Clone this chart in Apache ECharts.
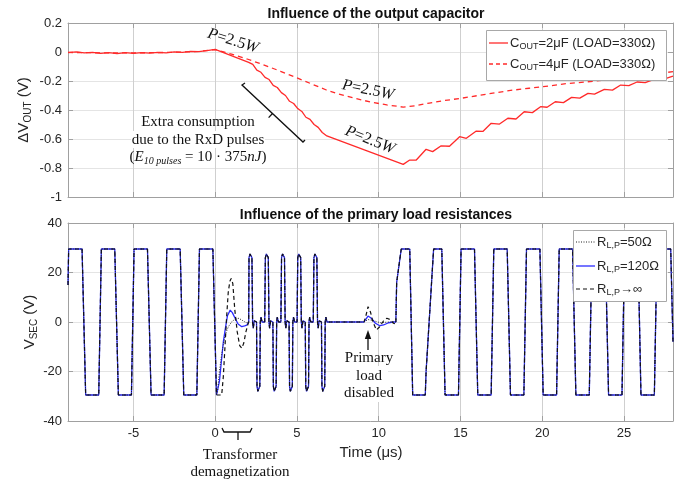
<!DOCTYPE html>
<html><head><meta charset="utf-8">
<script src="https://cdn.jsdelivr.net/npm/echarts@6/dist/echarts.min.js"></script>
<style>html,body{margin:0;padding:0;background:#fff}#c{width:689px;height:482px}</style>
</head><body><div id="c"></div>
<script>
// ---------------- DATA ----------------
const xTicks = [-5, 0, 5, 10, 15, 20, 25];
const yTicksTop = [-1, -0.8, -0.6, -0.4, -0.2, 0, 0.2];
const yTicksBottom = [-40, -20, 0, 20, 40];

// Top panel: C_OUT = 2 uF (solid)
const cout2uF = [[-9,-0.004],[-8.5,0.001],[-8,-0.006],[-7.5,-0.002],[-7,-0.009],[-6.5,-0.004],[-6,-0.011],[-5.5,-0.005],[-5,-0.01],[-4.5,-0.004],[-4,-0.008],[-3.5,-0.002],[-3,-0.006],[-2.5,0.001],[-2,-0.003],[-1.5,0.005],[-1,0.002],[-0.5,0.01],[0,0.018],
[2.05,-0.071],[2.3,-0.085],[2.55,-0.125],[2.8,-0.14],[3.05,-0.175],[3.3,-0.19],[3.55,-0.23],[3.8,-0.245],[4.05,-0.28],[4.3,-0.3],[4.55,-0.34],[4.8,-0.355],[5.05,-0.39],[5.3,-0.41],[5.55,-0.45],[5.8,-0.465],[6.05,-0.5],[6.3,-0.52],[6.55,-0.555],[6.83,-0.579],
[11.5,-0.775],[11.9,-0.745],[12.3,-0.745],[12.9,-0.671],[13.3,-0.687],[13.8,-0.648],[14.33,-0.65],[14.95,-0.584],[15.36,-0.595],[15.97,-0.545],[16.37,-0.548],[16.88,-0.492],[17.39,-0.497],[17.9,-0.457],[18.4,-0.462],[18.9,-0.412],[19.4,-0.418],[19.9,-0.377],[20.3,-0.381],[20.8,-0.343],[21.3,-0.349],[21.8,-0.313],[22.3,-0.318],[22.8,-0.285],[23.2,-0.29],[23.8,-0.258],[24.3,-0.263],[24.8,-0.228],[25.3,-0.232],[25.8,-0.207],[26.3,-0.211],[26.8,-0.19],[27.3,-0.193],[28,-0.166]];

// Top panel: C_OUT = 4 uF (dashed)
const cout4uF = [[-9,-0.003],[-8,-0.004],[-7,-0.006],[-6,-0.007],[-5,-0.006],[-4,-0.005],[-3,-0.003],[-2,0],[-1,0.004],[0,0.017],
[1,-0.015],[2,-0.05],[3,-0.09],[4,-0.133],[5,-0.178],[6,-0.225],[6.8,-0.262],[7.5,-0.288],[8.5,-0.318],[9.5,-0.345],[10.5,-0.365],[11.5,-0.38],[12.2,-0.372],[13.1,-0.352],[14,-0.335],[15,-0.32],[16.2,-0.298],[17.2,-0.28],[18.2,-0.263],[19.2,-0.25],[20,-0.24],[21.5,-0.218],[23.3,-0.2],[24.1,-0.19],[25.2,-0.175],[26.5,-0.155],[28,-0.136]];

// Bottom panel: parts shared by all three load cases
const vsecBefore = [[-9,15],[-8.96,29.5],[-8.14,29.5],[-7.92,-29.5],[-7.12,-29.5],[-6.96,29.5],[-6.14,29.5],[-5.92,-29.5],[-5.12,-29.5],[-4.96,29.5],[-4.14,29.5],[-3.92,-29.5],[-3.12,-29.5],[-2.96,29.5],[-2.14,29.5],[-1.92,-29.5],[-1.12,-29.5],[-0.96,29.5],[-0.14,29.5],[0.08,-29.5]];
const vsecPulses = [[2.05,0],[2.07,26],[2.13,27.5],[2.21,28],[2.25,26],[2.29,0],[2.33,-2.5],[2.39,0.5],[2.53,0],[2.56,-26],[2.61,-28],[2.69,-28.3],[2.73,-26],[2.76,0],[2.8,2],[2.87,0],
[3.03,0],[3.07,26],[3.13,27.5],[3.21,28],[3.25,26],[3.29,0],[3.33,-2.5],[3.39,0.5],[3.53,0],[3.56,-26],[3.61,-28],[3.69,-28.3],[3.73,-26],[3.76,0],[3.8,2],[3.87,0],
[4.02,0],[4.06,26],[4.12,27.5],[4.2,28],[4.24,26],[4.28,0],[4.32,-2.5],[4.38,0.5],[4.52,0],[4.55,-26],[4.6,-28],[4.68,-28.3],[4.72,-26],[4.75,0],[4.79,2],[4.86,0],
[5.01,0],[5.05,26],[5.11,27.5],[5.19,28],[5.23,26],[5.27,0],[5.31,-2.5],[5.37,0.5],[5.51,0],[5.54,-26],[5.59,-28],[5.67,-28.3],[5.71,-26],[5.74,0],[5.78,2],[5.85,0],
[6.0,0],[6.04,26],[6.1,27.5],[6.18,28],[6.22,26],[6.26,0],[6.3,-2.5],[6.36,0.5],[6.5,0],[6.53,-26],[6.58,-28],[6.66,-28.3],[6.7,-26],[6.73,0],[6.77,2],[6.84,0],[9.1,0]];
const vsecAfter = [[11.05,0],[11.1,16],[11.38,29.5],[11.9,29.5],[12.08,-29.5],[12.85,-29.5],[12.9,-20],[13.36,29.5],[13.86,29.5],[14.06,-29.5],[14.88,-29.5],[15.04,29.5],[15.86,29.5],[16.06,-29.5],[16.88,-29.5],[17.04,29.5],[17.86,29.5],[18.06,-29.5],[18.88,-29.5],[19.04,29.5],[19.86,29.5],[20.06,-29.5],[20.88,-29.5],[21.04,29.5],[21.86,29.5],[22.06,-29.5],[22.88,-29.5],[23.04,29.5],[23.86,29.5],[24.06,-29.5],[24.88,-29.5],[25.04,29.5],[25.86,29.5],[26.04,-29.5],[26.86,-29.5],[27.02,29.5],[27.86,29.5],[28,-8]];

// Bottom panel: transients that differ per primary load
const demag50 = [[0.08,-29.5],[0.15,-28],[0.26,-20],[0.4,-13],[0.51,-8.6],[0.65,-4.5],[0.81,-1.9],[1.0,0],[1.22,1.2],[1.45,1.5],[1.7,0.5],[1.9,-0.3],[2.05,0]];
const demag120 = [[0.08,-29.5],[0.18,-29],[0.26,-24],[0.35,-18],[0.41,-14],[0.5,-8],[0.61,-3.2],[0.75,2.5],[0.92,4.8],[1.05,3.8],[1.22,1.5],[1.4,-0.8],[1.63,-1.9],[1.8,-1.6],[1.93,-1.3],[2.05,0]];
const demagInf = [[0.08,-29.5],[0.4,-29.5],[0.5,-22],[0.6,-10],[0.7,2],[0.8,12],[0.9,16.5],[0.98,17.6],[1.08,15.5],[1.2,5],[1.35,-4],[1.5,-9.5],[1.63,-10.6],[1.75,-8.5],[1.88,-4],[2.0,-1],[2.05,0]];
const disable50 = [[9.1,0],[9.35,1],[9.7,0.5],[10.1,-0.3],[10.6,0],[11.05,0]];
const disable120 = [[9.1,0],[9.2,1],[9.35,2.4],[9.55,1.5],[9.8,-0.5],[10.07,-1.5],[10.3,-1.2],[10.6,-0.3],[10.9,0],[11.05,0]];
const disableInf = [[9.1,0],[9.2,2],[9.35,6.2],[9.5,4],[9.65,0],[9.86,-3.2],[10.05,-2],[10.3,0.5],[10.5,1.5],[10.7,1],[10.9,-0.5],[11.05,-0.8]];

// --------------- CHART ----------------
const AX = '#a0a0a0', GRID = '#e4e4e4', XGRID = '#cfcfcf', TXT = '#262626';
const build = (a, b) => vsecBefore.concat(a, vsecPulses, b, vsecAfter);

const xBase = (grid, labels, pos) => ({
  gridIndex: grid, type: 'value', min: -9, max: 28, splitNumber: 7, position: pos,
  axisLine: {show: true, onZero: false, lineStyle: {color: AX}},
  axisTick: {show: true, inside: true, length: 5, lineStyle: {color: AX}},
  splitLine: {show: pos === 'bottom', lineStyle: {color: XGRID, width: 1}},
  axisLabel: labels ? {show: true, color: TXT, fontSize: 13, fontFamily: 'Liberation Sans', margin: 6,
    formatter: v => xTicks.includes(Math.round(v * 1000) / 1000) ? String(v) : ''} : {show: false}
});
const yBase = (grid, min, max, interval, labels, pos) => ({
  gridIndex: grid, type: 'value', min, max, interval, position: pos,
  axisLine: {show: true, onZero: false, lineStyle: {color: AX}},
  axisTick: {show: true, inside: true, length: 5, lineStyle: {color: AX}},
  splitLine: {show: pos === 'left', lineStyle: {color: GRID}},
  axisLabel: labels ? {show: true, color: TXT, fontSize: 13, fontFamily: 'Liberation Sans', margin: 6} : {show: false}
});

const serif = 'Liberation Serif';
const sans = 'Liberation Sans';
const subRich = (fs, sfs) => ({
  a: {fontSize: fs, fontFamily: sans, fill: TXT, lineHeight: fs + 4, verticalAlign: 'middle'},
  b: {fontSize: sfs, fontFamily: sans, fill: TXT, lineHeight: sfs + 2, verticalAlign: 'bottom'}
});
const ptext = (x, y, rot) => ({
  type: 'text', x, y, rotation: rot, z: 20,
  style: {text: '{i|P}{n|=2.5}{i|W}', align: 'center', verticalAlign: 'middle',
    rich: {i: {fontFamily: serif, fontStyle: 'italic', fontSize: 16, fill: '#111'}, n: {fontFamily: serif, fontSize: 16, fill: '#111'}}}
});
const plain = (x, y, t, bg) => ({type: 'text', x, y, z: 20, style: {text: t, align: 'center', verticalAlign: 'middle', font: '15px "Liberation Serif"', fill: '#111',
  backgroundColor: bg ? '#ffffff' : 'transparent', padding: bg ? [1, 2] : 0}});

const chart = echarts.init(document.getElementById('c'), null, {renderer: 'canvas'});
chart.setOption({
  animation: false,
  backgroundColor: '#fff',
  title: [
    {text: 'Influence of the output capacitor', left: 371, top: 2, textAlign: 'center', textStyle: {fontFamily: sans, fontSize: 14, fontWeight: 'bold', color: '#111'}},
    {text: 'Influence of the primary load resistances', left: 371, top: 203, textAlign: 'center', textStyle: {fontFamily: sans, fontSize: 14, fontWeight: 'bold', color: '#111'}}
  ],
  grid: [
    {left: 68, right: 16, top: 23, height: 174},
    {left: 68, right: 16, top: 223, height: 198}
  ],
  xAxis: [xBase(0, false, 'bottom'), xBase(1, true, 'bottom'), xBase(0, false, 'top'), xBase(1, false, 'top')],
  yAxis: [yBase(0, -1, 0.2, 0.2, true, 'left'), yBase(1, -40, 40, 20, true, 'left'),
          yBase(0, -1, 0.2, 0.2, false, 'right'), yBase(1, -40, 40, 20, false, 'right')],
  series: [
    {name: 'C_OUT=2uF', type: 'line', xAxisIndex: 0, yAxisIndex: 0, data: cout2uF, showSymbol: false, symbol: 'none', lineStyle: {color: '#ff2a2a', width: 1.3}, z: 3},
    {name: 'C_OUT=4uF', type: 'line', xAxisIndex: 0, yAxisIndex: 0, data: cout4uF, showSymbol: false, symbol: 'none', lineStyle: {color: '#ff2a2a', width: 1.3, type: [5, 4]}, z: 2},
    {name: 'R120', type: 'line', xAxisIndex: 1, yAxisIndex: 1, data: build(demag120, disable120), showSymbol: false, symbol: 'none', lineStyle: {color: '#2a2aff', width: 1.3}, z: 2},
    {name: 'R50', type: 'line', xAxisIndex: 1, yAxisIndex: 1, data: build(demag50, disable50), showSymbol: false, symbol: 'none', lineStyle: {color: '#222', width: 1, type: [1, 1.5]}, z: 3},
    {name: 'Rinf', type: 'line', xAxisIndex: 1, yAxisIndex: 1, data: build(demagInf, disableInf), showSymbol: false, symbol: 'none', lineStyle: {color: '#111', width: 1.2, type: [4, 3]}, z: 4}
  ],
  graphic: [
    // axis names
    {type: 'text', x: 24, y: 110, rotation: Math.PI / 2, style: {text: '{a|ΔV}{b|OUT}{a| (V)}', align: 'center', verticalAlign: 'middle', rich: subRich(15, 10)}},
    {type: 'text', x: 30, y: 322, rotation: Math.PI / 2, style: {text: '{a|V}{b|SEC}{a| (V)}', align: 'center', verticalAlign: 'middle', rich: subRich(15, 10)}},
    {type: 'text', x: 371, y: 453, style: {text: 'Time (μs)', align: 'center', verticalAlign: 'middle', font: '15px "Liberation Sans"', fill: TXT}},
    // top legend
    {type: 'rect', shape: {x: 486.5, y: 30.5, width: 180, height: 50}, style: {fill: '#fff', stroke: '#a8a8a8', lineWidth: 1}, z: 10},
    {type: 'line', shape: {x1: 489, y1: 43, x2: 508, y2: 43}, style: {stroke: '#ff2a2a', lineWidth: 1.3}, z: 11},
    {type: 'line', shape: {x1: 489, y1: 64, x2: 508, y2: 64}, style: {stroke: '#ff2a2a', lineWidth: 1.3, lineDash: [4, 3]}, z: 11},
    {type: 'text', x: 510, y: 43, z: 11, style: {text: '{a|C}{b|OUT}{a|=2μF (LOAD=330Ω)}', verticalAlign: 'middle', rich: subRich(13, 9)}},
    {type: 'text', x: 510, y: 64, z: 11, style: {text: '{a|C}{b|OUT}{a|=4μF (LOAD=330Ω)}', verticalAlign: 'middle', rich: subRich(13, 9)}},
    // bottom legend
    {type: 'rect', shape: {x: 573.5, y: 230.5, width: 93, height: 71}, style: {fill: '#fff', stroke: '#a8a8a8', lineWidth: 1}, z: 10},
    {type: 'line', shape: {x1: 576, y1: 242, x2: 595, y2: 242}, style: {stroke: '#222', lineWidth: 1, lineDash: [1, 1.5]}, z: 11},
    {type: 'line', shape: {x1: 576, y1: 266, x2: 595, y2: 266}, style: {stroke: '#2a2aff', lineWidth: 1.3}, z: 11},
    {type: 'line', shape: {x1: 576, y1: 289, x2: 595, y2: 289}, style: {stroke: '#111', lineWidth: 1.2, lineDash: [4, 3]}, z: 11},
    {type: 'text', x: 597, y: 242, z: 11, style: {text: '{a|R}{b|L,P}{a|=50Ω}', verticalAlign: 'middle', rich: subRich(13, 9)}},
    {type: 'text', x: 597, y: 266, z: 11, style: {text: '{a|R}{b|L,P}{a|=120Ω}', verticalAlign: 'middle', rich: subRich(13, 9)}},
    {type: 'text', x: 597, y: 289, z: 11, style: {text: '{a|R}{b|L,P}{a|→∞}', verticalAlign: 'middle', rich: subRich(13, 9)}},
    // top annotations
    ptext(233, 41, -0.3),
    ptext(368, 90, -0.2),
    ptext(370, 140, -0.38),
    {type: 'rect', z: 19, shape: {x: 131, y: 131, width: 134, height: 17}, style: {fill: '#fff'}},
    plain(198, 122, 'Extra consumption', false),
    plain(198, 140, 'due to the RxD pulses', false),
    {type: 'text', x: 198, y: 157, z: 20, style: {text: '{n|(}{i|E}{s|10 pulses}{n| = 10 · 375}{i|nJ}{n|)}', align: 'center', verticalAlign: 'middle',
      rich: {n: {fontFamily: serif, fontSize: 15, fill: '#111', lineHeight: 19, verticalAlign: 'middle'},
             i: {fontFamily: serif, fontStyle: 'italic', fontSize: 15, fill: '#111', lineHeight: 19, verticalAlign: 'middle'},
             s: {fontFamily: serif, fontStyle: 'italic', fontSize: 10, fill: '#111', lineHeight: 12, verticalAlign: 'bottom'}}}},
    {type: 'polyline', z: 20, shape: {points: [[245, 83], [242, 85], [303, 142], [305, 140]]}, style: {stroke: '#111', lineWidth: 1.3, fill: null}},
    {type: 'line', z: 20, shape: {x1: 272.5, y1: 113.5, x2: 268.6, y2: 117.6}, style: {stroke: '#111', lineWidth: 1.3}},
    // bottom annotations
    {type: 'rect', z: 19, shape: {x: 350, y: 366, width: 38, height: 36}, style: {fill: '#fff'}},
    plain(369, 358, 'Primary', false),
    plain(369, 376, 'load', false),
    plain(369, 393, 'disabled', false),
    {type: 'line', z: 20, shape: {x1: 368, y1: 350, x2: 368, y2: 336}, style: {stroke: '#111', lineWidth: 1.3}},
    {type: 'polygon', z: 20, shape: {points: [[368, 330], [364.8, 339], [371.2, 339]]}, style: {fill: '#111'}},
    {type: 'polyline', shape: {points: [[222, 428], [224, 432], [250, 432], [252, 428]]}, style: {stroke: '#111', lineWidth: 1.3, fill: null}},
    {type: 'line', shape: {x1: 238, y1: 432, x2: 238, y2: 440}, style: {stroke: '#111', lineWidth: 1.3}},
    plain(240, 455, 'Transformer'),
    plain(240, 472, 'demagnetization')
  ]
});
</script></body></html>
